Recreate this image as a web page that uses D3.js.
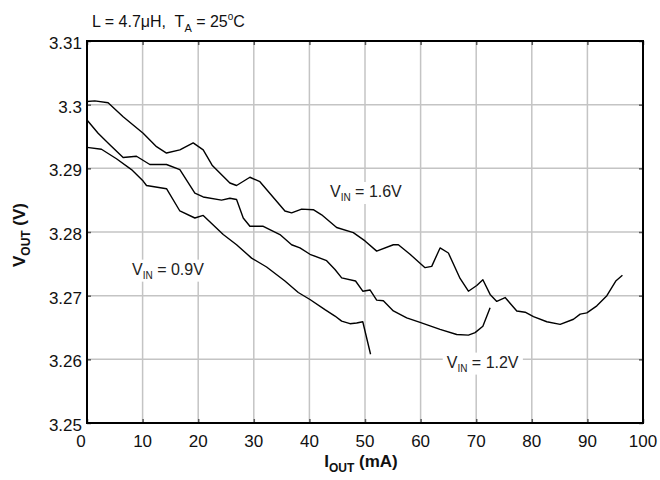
<!DOCTYPE html>
<html>
<head>
<meta charset="utf-8">
<script src="https://cdn.jsdelivr.net/npm/d3@7"></script>
<style>
  body { margin: 0; background: #fff; }
  text { font-family: "Liberation Sans", Arial, Helvetica, sans-serif; fill: #111; white-space: pre; }
</style>
</head>
<body>
<div class="report"></div>
<script>
// I_OUT (mA) and V_OUT (V)
var vin16X = [0, 1.4, 3.8, 6.5, 10.1, 12.5, 14.3, 16.7, 19.1, 20.9, 22.5, 25.7, 26.9, 29.3, 31.1, 35.6, 36.8, 38.6, 40.7, 42.2, 44.9, 47.9, 50, 52.1, 55.1, 56, 58.1, 60.8, 62, 63.5, 65, 67.1, 68.6, 70.1, 71.2, 72.5, 73.7, 75.2, 77.3, 78.8, 80.3, 82.7, 85.1, 87.5, 88.7, 89.9, 91.7, 93.5, 95.1, 96.3];
var vin16Y = [3.3005, 3.3006, 3.3003, 3.2981, 3.2955, 3.2934, 3.2924, 3.2929, 3.2940, 3.2929, 3.2905, 3.2877, 3.2873, 3.2886, 3.2879, 3.2833, 3.2830, 3.2836, 3.2835, 3.2827, 3.2807, 3.2799, 3.2786, 3.2770, 3.2780, 3.2780, 3.2765, 3.2744, 3.2746, 3.2775, 3.2767, 3.2727, 3.2707, 3.2716, 3.2725, 3.2702, 3.2691, 3.2697, 3.2676, 3.2674, 3.2667, 3.2659, 3.2655, 3.2663, 3.2671, 3.2673, 3.2684, 3.2700, 3.2723, 3.2732];

var vin12X = [0, 2, 4.1, 6.5, 8.9, 11.3, 14.3, 16.7, 19.4, 20.9, 24.2, 25.7, 26.9, 28.1, 29.3, 31.7, 34.7, 36.8, 38.3, 40.1, 43.1, 44.6, 45.8, 48.3, 49.6, 50.9, 52.1, 53.3, 55.1, 57.5, 59.9, 63.5, 66.5, 68.6, 69.8, 71.2, 72.5];
var vin12Y = [3.2976, 3.2955, 3.2937, 3.2917, 3.2919, 3.2906, 3.2906, 3.2898, 3.2861, 3.2855, 3.2850, 3.2853, 3.2851, 3.2822, 3.2809, 3.2809, 3.2796, 3.2780, 3.2775, 3.2765, 3.2755, 3.2741, 3.2728, 3.2723, 3.2707, 3.2709, 3.2693, 3.2692, 3.2676, 3.2665, 3.2658, 3.2647, 3.2639, 3.2638, 3.2642, 3.2652, 3.2681];

var vin09X = [0, 2.6, 5.3, 8, 10.1, 10.7, 14.3, 16.7, 19.4, 20.9, 24.5, 26.9, 29.6, 32.3, 35.6, 38, 40.1, 42.8, 44.6, 45.8, 47.3, 48.5, 49.6, 51];
var vin09Y = [3.2933, 3.2930, 3.2915, 3.2898, 3.2880, 3.2873, 3.2868, 3.2833, 3.2822, 3.2826, 3.2796, 3.2780, 3.2759, 3.2745, 3.2723, 3.2705, 3.2694, 3.2678, 3.2668, 3.2660, 3.2656, 3.2657, 3.2659, 3.2608];

var xTicks = [0, 10, 20, 30, 40, 50, 60, 70, 80, 90, 100];
var yTicks = [3.25, 3.26, 3.27, 3.28, 3.29, 3.3, 3.31];
var yTickLabels = ["3.25", "3.26", "3.27", "3.28", "3.29", "3.3", "3.31"];

// curve labels: [prefix, value, x (mA), y (V)]
var curveLabels = [
    ["V", "1.6V", 43.7, 3.2855],
    ["V", "0.9V", 8.1, 3.2733],
    ["V", "1.2V", 64.7, 3.2587]
];

var width = 660, height = 480,
    pLeft = 87, pRight = 643, pTop = 41, pBottom = 423;

var svg = d3.select(".report").append("svg")
    .attr("width", width)
    .attr("height", height);

var x = d3.scaleLinear().domain([0, 100]).range([pLeft, pRight]);
var y = d3.scaleLinear().domain([3.25, 3.31]).range([pBottom, pTop]);

// grid
svg.append("g").selectAll("line")
    .data(xTicks.slice(1, -1))
    .enter().append("line")
    .attr("x1", function(d) { return x(d); })
    .attr("x2", function(d) { return x(d); })
    .attr("y1", pTop).attr("y2", pBottom)
    .attr("stroke", "#c4c4c4").attr("stroke-width", 1.5);

svg.append("g").selectAll("line")
    .data(yTicks.slice(1, -1))
    .enter().append("line")
    .attr("x1", pLeft).attr("x2", pRight)
    .attr("y1", function(d) { return y(d); })
    .attr("y2", function(d) { return y(d); })
    .attr("stroke", "#c4c4c4").attr("stroke-width", 1.5);

// inward ticks on every side
var tickLen = 4;
var axisBottom = d3.axisBottom(x).tickValues(xTicks).tickSizeInner(-tickLen).tickSizeOuter(0).tickFormat("");
var axisTop = d3.axisTop(x).tickValues(xTicks).tickSizeInner(-tickLen).tickSizeOuter(0).tickFormat("");
var axisLeft = d3.axisLeft(y).tickValues(yTicks).tickSizeInner(-tickLen).tickSizeOuter(0).tickFormat("");
var axisRight = d3.axisRight(y).tickValues(yTicks).tickSizeInner(-tickLen).tickSizeOuter(0).tickFormat("");

[[axisBottom, "translate(0," + pBottom + ")"], [axisTop, "translate(0," + pTop + ")"],
 [axisLeft, "translate(" + pLeft + ",0)"], [axisRight, "translate(" + pRight + ",0)"]].forEach(function(a) {
    var g = svg.append("g").attr("transform", a[1]).call(a[0]);
    g.select(".domain").remove();
    g.selectAll("text").remove();
    g.selectAll("line").attr("stroke", "#555").attr("stroke-width", 1.5);
});

// curve labels, on a white patch that hides the grid under them
curveLabels.forEach(function(c) {
    var g = svg.append("g");
    var bg = g.append("rect").attr("fill", "#fff");
    var t = g.append("text")
        .attr("x", x(c[2])).attr("y", y(c[3]))
        .attr("font-size", 16).style("fill", "#222");
    t.append("tspan").text(c[0]);
    t.append("tspan").attr("font-size", 10).attr("dy", 4).text("IN");
    t.append("tspan").attr("dy", -4).text(" = " + c[1]);
    var b = t.node().getBBox();
    bg.attr("x", b.x - 4).attr("y", b.y - 1)
      .attr("width", b.width + 8).attr("height", b.height + 2);
});

// frame
svg.append("rect")
    .attr("x", pLeft).attr("y", pTop)
    .attr("width", pRight - pLeft).attr("height", pBottom - pTop)
    .attr("fill", "none").attr("stroke", "#000").attr("stroke-width", 2);

// tick labels
svg.append("g").selectAll("text")
    .data(xTicks)
    .enter().append("text")
    .attr("x", function(d) { return x(d) + (d === 0 ? -6 : 0); })
    .attr("y", pBottom + 24)
    .attr("text-anchor", "middle")
    .attr("font-size", 17)
    .text(function(d) { return d; });

svg.append("g").selectAll("text")
    .data(yTicks)
    .enter().append("text")
    .attr("x", pLeft - 5)
    .attr("y", function(d) { return y(d) + 8; })
    .attr("text-anchor", "end")
    .attr("font-size", 17)
    .text(function(d, i) { return yTickLabels[i]; });

// curves
var line = d3.line()
    .x(function(d) { return x(d[0]); })
    .y(function(d) { return y(d[1]); });

[[vin16X, vin16Y], [vin12X, vin12Y], [vin09X, vin09Y]].forEach(function(s) {
    svg.append("path")
        .datum(s[0].map(function(v, i) { return [v, s[1][i]]; }))
        .attr("d", line)
        .attr("fill", "none")
        .attr("stroke", "#000")
        .attr("stroke-width", 1.4)
        .attr("stroke-linejoin", "round");
});

// title
var title = svg.append("text").attr("x", 92).attr("y", 27).attr("font-size", 16);
title.append("tspan").text("L = 4.7\u03bcH,  T");
title.append("tspan").attr("font-size", 11).attr("dy", 5).text("A");
title.append("tspan").attr("dy", -5).text(" = 25");
title.append("tspan").attr("font-size", 10).attr("dy", -7).text("o");
title.append("tspan").attr("dy", 7).text("C");

// axis titles
var xt = svg.append("text")
    .attr("x", 361).attr("y", 467)
    .attr("text-anchor", "middle")
    .attr("font-size", 17).attr("font-weight", "bold");
xt.append("tspan").text("I");
xt.append("tspan").attr("font-size", 12).attr("dy", 5).text("OUT");
xt.append("tspan").attr("dy", -5).text(" (mA)");

var yt = svg.append("text")
    .attr("transform", "translate(25,235) rotate(-90)")
    .attr("text-anchor", "middle")
    .attr("font-size", 17).attr("font-weight", "bold");
yt.append("tspan").text("V");
yt.append("tspan").attr("font-size", 12).attr("dy", 5).text("OUT");
yt.append("tspan").attr("dy", -5).text(" (V)");
</script>
</body>
</html>
